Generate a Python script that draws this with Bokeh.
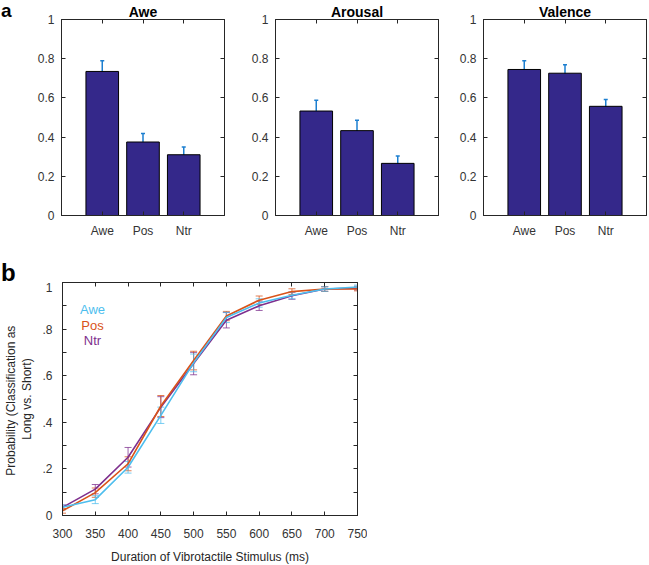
from bokeh.plotting import figure
from bokeh.models import (ColumnDataSource, Whisker, TeeHead, FixedTicker, LinearAxis,
                          Label, CustomJSTickFormatter, Range1d, Div)
from bokeh.layouts import column, row
from bokeh.embed import file_html
from bokeh.resources import INLINE

# ---------------- data ----------------
conditions = ["Awe", "Pos", "Ntr"]
panel_titles = ["Awe", "Arousal", "Valence"]

awe_means = [0.735, 0.375, 0.310]
awe_errs = [0.055, 0.043, 0.040]
arousal_means = [0.533, 0.433, 0.266]
arousal_errs = [0.055, 0.053, 0.038]
valence_means = [0.745, 0.726, 0.557]
valence_errs = [0.044, 0.043, 0.035]

durations = [300, 350, 400, 450, 500, 550, 600, 650, 700, 750]
awe_prob = [0.035, 0.068, 0.207, 0.430, 0.655, 0.850, 0.912, 0.945, 0.972, 0.981]
awe_err = [0.010, 0.017, 0.025, 0.035, 0.038, 0.022, 0.018, 0.015, 0.010, 0.008]
pos_prob = [0.020, 0.098, 0.222, 0.470, 0.665, 0.856, 0.924, 0.961, 0.972, 0.972]
pos_err = [0.010, 0.020, 0.030, 0.045, 0.040, 0.020, 0.018, 0.012, 0.010, 0.008]
ntr_prob = [0.035, 0.113, 0.250, 0.465, 0.652, 0.838, 0.900, 0.943, 0.972, 0.976]
ntr_err = [0.010, 0.020, 0.042, 0.045, 0.048, 0.033, 0.020, 0.015, 0.010, 0.008]

bar_yticks = [0, 0.2, 0.4, 0.6, 0.8, 1.0]
prob_major_ticks = [0, 0.2, 0.4, 0.6, 0.8, 1.0]
prob_minor_ticks = [0.1, 0.3, 0.5, 0.7, 0.9]
duration_ticks = [300, 350, 400, 450, 500, 550, 600, 650, 700, 750]

# ---------------- styles ----------------
FONT = "Liberation Sans"
AX = "#262626"
TXT = "#333333"
BAR = "#34288A"
ERR = "#1C7FD0"
C_AWE = "#4DBEEE"
C_POS = "#D95319"
C_NTR = "#7E2F8E"


def style_axis(ax, labels=True):
    ax.axis_line_color = AX
    ax.major_tick_line_color = AX
    ax.major_tick_in = 4
    ax.major_tick_out = 0
    ax.minor_tick_line_color = None
    if labels:
        ax.major_label_text_font = FONT
        ax.major_label_text_font_size = "12px"
        ax.major_label_text_color = TXT
    else:
        ax.major_label_text_color = None
        ax.major_label_text_font_size = "1px"
        ax.major_label_standoff = 0


def bar_panel(title, means, errs, bl, br, fw):
    p = figure(frame_width=fw, frame_height=196, x_range=Range1d(0, 4), y_range=Range1d(0, 1),
               output_backend="svg", toolbar_location=None,
               min_border_left=bl, min_border_right=br, min_border_top=19, min_border_bottom=38)
    p.title.text = title
    p.title.align = "center"
    p.title.text_font = FONT
    p.title.text_font_size = "14px"
    p.title.text_font_style = "bold"
    p.title.text_color = "black"
    p.title.standoff = 0
    p.outline_line_color = AX
    p.xgrid.visible = False
    p.ygrid.visible = False
    xs = list(range(1, len(means) + 1))
    src = ColumnDataSource(dict(x=xs, top=means,
                                upper=[m + e for m, e in zip(means, errs)],
                                lower=[m - e for m, e in zip(means, errs)]))
    p.vbar(x="x", top="top", bottom=0, width=0.8, source=src,
           fill_color=BAR, line_color="black", line_width=1)
    p.add_layout(Whisker(base="x", upper="upper", lower="lower", source=src,
                         line_color=ERR, line_width=1.5,
                         upper_head=TeeHead(size=4, line_color=ERR, line_width=1.5),
                         lower_head=TeeHead(size=4, line_color=ERR, line_width=1.5)))
    fmt = CustomJSTickFormatter(code="return tick == 0 ? '0' : (tick == 1 ? '1' : tick.toFixed(1));")
    p.yaxis.ticker = FixedTicker(ticks=bar_yticks)
    p.yaxis.formatter = fmt
    style_axis(p.yaxis[0])
    p.yaxis.major_label_standoff = 7
    p.xaxis.ticker = FixedTicker(ticks=xs)
    p.xaxis.major_label_overrides = {i + 1: c for i, c in enumerate(conditions)}
    style_axis(p.xaxis[0])
    p.xaxis.major_label_standoff = 8
    ra = LinearAxis(ticker=FixedTicker(ticks=bar_yticks))
    style_axis(ra, labels=False)
    p.add_layout(ra, "right")
    ta = LinearAxis(ticker=FixedTicker(ticks=xs))
    style_axis(ta, labels=False)
    p.add_layout(ta, "above")
    return p


def letter_div(letter, w, h, size, line_h, pad_top):
    html = ('<div style="font-family: \'Liberation Sans\', Arial, sans-serif; font-weight: bold; '
            'font-size: %dpx; line-height: %dpx; padding: %dpx 0 0 1px; margin: 0; color: #000;">%s</div>'
            % (size, line_h, pad_top, letter))
    return Div(text=html, width=w, height=h, margin=(0, 0, 0, 0))


div_a = letter_div("a", 14, 253, 19, 22, 0)
p1 = bar_panel(panel_titles[0], awe_means, awe_errs, 47, 16, 163)
p2 = bar_panel(panel_titles[1], arousal_means, arousal_errs, 35, 12, 163)
p3 = bar_panel(panel_titles[2], valence_means, valence_errs, 33, 2, 163)

# ---------------- bottom panel ----------------
div_b = letter_div("b", 60, 29, 24, 24, 8)
fw4, fh4 = 295, 233
p4 = figure(frame_width=fw4, frame_height=fh4, x_range=Range1d(300, 750), y_range=Range1d(0, 1),
            output_backend="svg", toolbar_location=None,
            min_border_left=62, min_border_right=10, min_border_top=0, min_border_bottom=44)
p4.outline_line_color = AX
p4.xgrid.visible = False
p4.ygrid.visible = False

series = [("Ntr", ntr_prob, ntr_err, C_NTR),
          ("Pos", pos_prob, pos_err, C_POS),
          ("Awe", awe_prob, awe_err, C_AWE)]
for name, prob, err, col in series:
    src = ColumnDataSource(dict(x=durations, y=prob,
                                upper=[v + e for v, e in zip(prob, err)],
                                lower=[v - e for v, e in zip(prob, err)]))
    p4.add_layout(Whisker(base="x", upper="upper", lower="lower", source=src,
                          line_color=col, line_alpha=0.75, line_width=1,
                          upper_head=TeeHead(size=7, line_color=col, line_alpha=0.75, line_width=1),
                          lower_head=TeeHead(size=7, line_color=col, line_alpha=0.75, line_width=1)))
    p4.line("x", "y", source=src, line_color=col, line_width=1.6)

yfmt = CustomJSTickFormatter(
    code="return tick == 0 ? '0' : (tick == 1 ? '1' : tick.toFixed(1).replace(/^0/, ''));")
p4.yaxis.ticker = FixedTicker(ticks=prob_major_ticks, minor_ticks=prob_minor_ticks)
p4.yaxis.formatter = yfmt
style_axis(p4.yaxis[0])
p4.yaxis.minor_tick_line_color = AX
p4.yaxis.minor_tick_in = 4
p4.yaxis.minor_tick_out = 0
p4.yaxis.major_label_standoff = 10
p4.yaxis.axis_label = "Probability  (Classification as\nLong vs. Short)"
p4.yaxis.axis_label_text_font = FONT
p4.yaxis.axis_label_text_font_size = "12px"
p4.yaxis.axis_label_text_font_style = "normal"
p4.yaxis.axis_label_text_color = AX
p4.yaxis.axis_label_standoff = 5

p4.xaxis.ticker = FixedTicker(ticks=duration_ticks)
style_axis(p4.xaxis[0])
p4.xaxis.major_label_standoff = 13
p4.xaxis.axis_label = "Duration of Vibrotactile Stimulus (ms)"
p4.xaxis.axis_label_text_font = FONT
p4.xaxis.axis_label_text_font_size = "12px"
p4.xaxis.axis_label_text_font_style = "normal"
p4.xaxis.axis_label_text_color = AX
p4.xaxis.axis_label_standoff = 9

ra4 = LinearAxis(ticker=FixedTicker(ticks=prob_major_ticks, minor_ticks=prob_minor_ticks))
style_axis(ra4, labels=False)
ra4.minor_tick_line_color = AX
ra4.minor_tick_in = 4
ra4.minor_tick_out = 0
p4.add_layout(ra4, "right")
ta4 = LinearAxis(ticker=FixedTicker(ticks=duration_ticks))
style_axis(ta4, labels=False)
p4.add_layout(ta4, "above")

legend_rows = [("Awe", C_AWE, 206), ("Pos", C_POS, 190), ("Ntr", C_NTR, 175)]
for txt, col, yy in legend_rows:
    p4.add_layout(Label(x=30, y=yy, x_units="screen", y_units="screen", text=txt,
                        text_font=FONT, text_font_size="13px", text_color=col,
                        text_align="center", text_baseline="middle"))

layout = column(row(div_a, p1, p2, p3), div_b, p4)
open("out.html", "w").write(file_html(layout, INLINE))
